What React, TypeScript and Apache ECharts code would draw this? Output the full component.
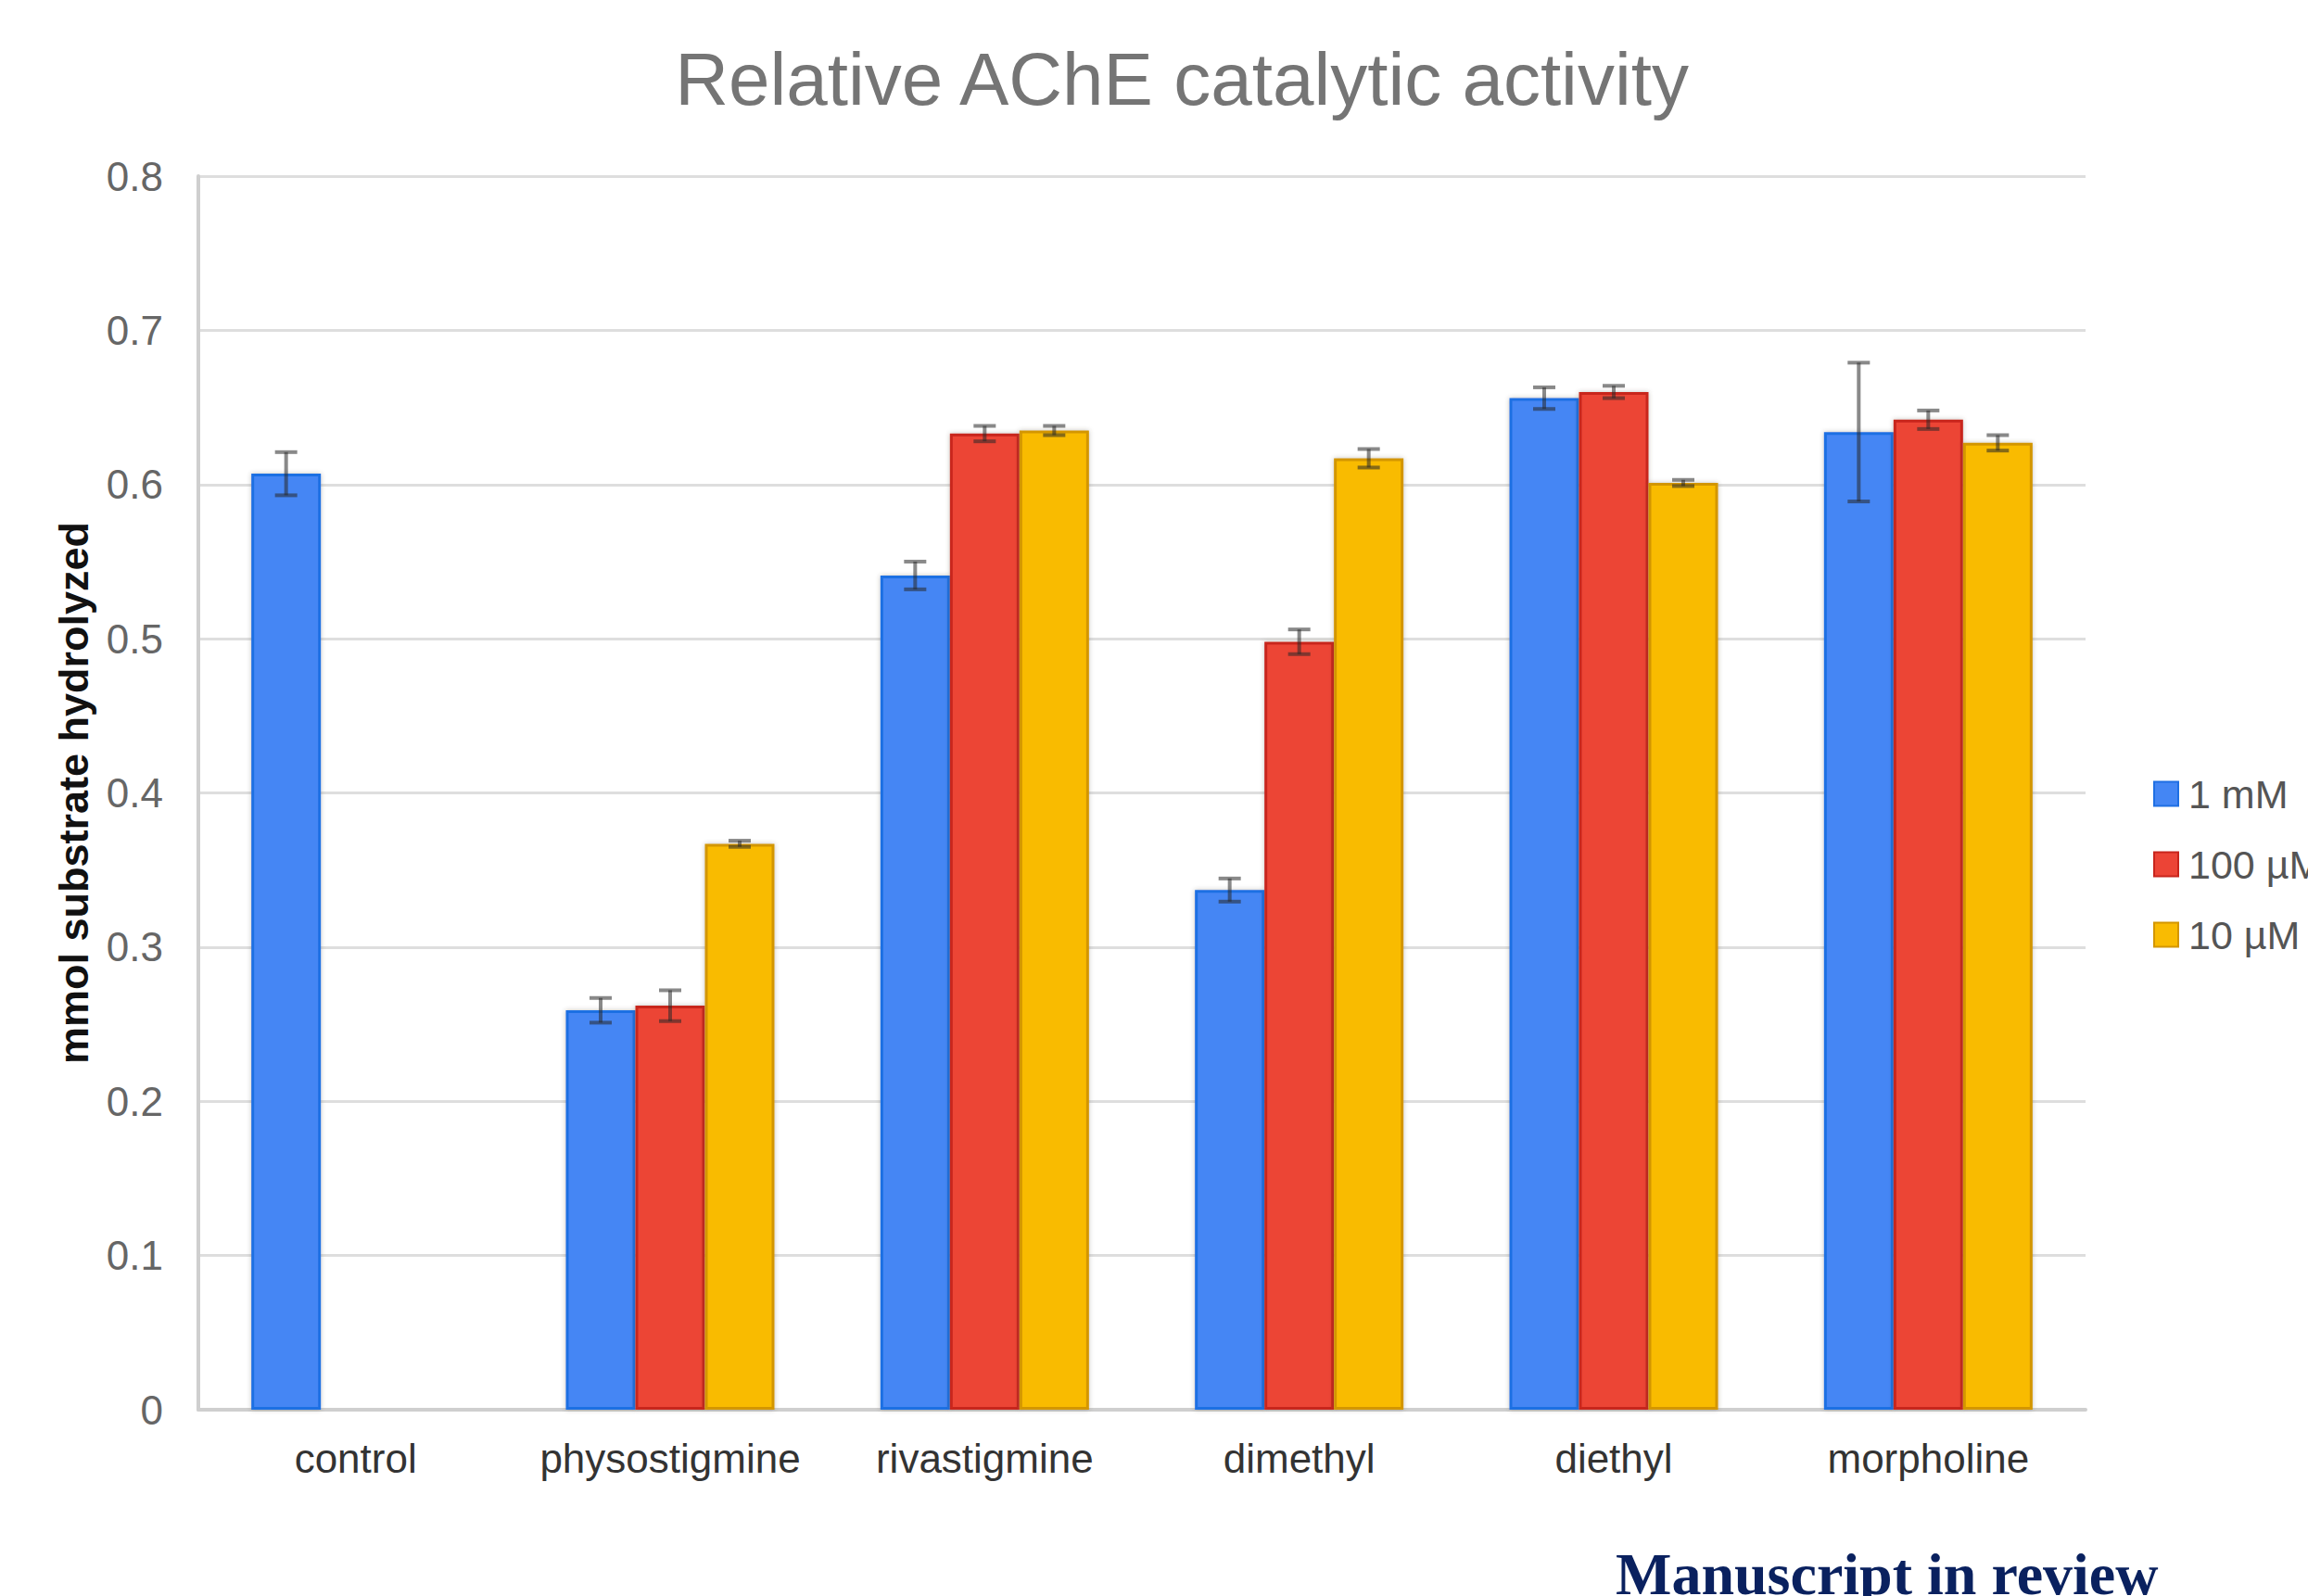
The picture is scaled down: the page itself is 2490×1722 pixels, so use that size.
import React, { useEffect, useRef } from "react";
import * as echarts from "echarts";

const categories = ["control", "physostigmine", "rivastigmine", "dimethyl", "diethyl", "morpholine"];
const seriesNames = ["1 mM", "100 µM", "10 µM"];
const values1mM = [0.607, 0.259, 0.541, 0.337, 0.656, 0.634];
const values100uM = [null, 0.262, 0.633, 0.498, 0.66, 0.642];
const values10uM = [null, 0.367, 0.635, 0.617, 0.601, 0.627];
const err1mM = [0.014, 0.008, 0.009, 0.0075, 0.007, 0.045];
const err100uM = [null, 0.01, 0.005, 0.008, 0.004, 0.006];
const err10uM = [null, 0.002, 0.003, 0.006, 0.002, 0.005];
const yTicks = [0, 0.1, 0.2, 0.3, 0.4, 0.5, 0.6, 0.7, 0.8];

const FONT = "'Liberation Sans', Arial, sans-serif";
const BAR_W = 75;
const fills = ["#4486F4", "#EC4436", "#F9BB02"];
const borders = ["#1f6fe3", "#c8251c", "#d39600"];

export default function App() {
  const ref = useRef<HTMLDivElement>(null);
  useEffect(() => {
    if (!ref.current) return;
    const chart = echarts.init(ref.current, null, { renderer: "svg" });
    const allValues = [values1mM, values100uM, values10uM];
    const allErr = [err1mM, err100uM, err10uM];

    const barSeries = seriesNames.map((name, i) => ({
      name,
      type: "bar",
      data: allValues[i],
      barWidth: BAR_W,
      barGap: "0%",
      itemStyle: {
        color: fills[i],
        borderColor: borders[i],
        borderWidth: 3,
        shadowColor: "rgba(80,70,60,0.35)",
        shadowBlur: 5,
      },
      z: 2,
    }));

    const errSeries = seriesNames.map((name, i) => ({
      name: name + " error",
      type: "custom",
      z: 5,
      silent: true,
      data: allValues[i]
        .map((v, k) => (v == null ? null : [k, v, allErr[i][k]]))
        .filter((d) => d != null),
      renderItem: (params: any, api: any) => {
        const c = api.value(0);
        const v = api.value(1);
        const e = api.value(2);
        const hi = api.coord([c, v + e]);
        const lo = api.coord([c, v - e]);
        const cx = hi[0] + (i - 1) * BAR_W;
        const style = { stroke: "rgba(40,40,40,0.55)", lineWidth: 4 };
        const cap = 12;
        return {
          type: "group",
          children: [
            { type: "line", shape: { x1: cx, y1: hi[1], x2: cx, y2: lo[1] }, style },
            { type: "line", shape: { x1: cx - cap, y1: hi[1], x2: cx + cap, y2: hi[1] }, style },
            { type: "line", shape: { x1: cx - cap, y1: lo[1], x2: cx + cap, y2: lo[1] }, style },
          ],
        };
      },
    }));

    chart.setOption({
      animation: false,
      backgroundColor: "#ffffff",
      textStyle: { fontFamily: FONT },
      title: {
        text: "Relative AChE catalytic activity",
        left: 1270,
        textAlign: "center",
        top: 40,
        textStyle: { fontFamily: FONT, fontSize: 80, fontWeight: "normal", color: "#757575" },
      },
      legend: {
        data: seriesNames,
        orient: "vertical",
        left: 2318,
        top: 830,
        itemWidth: 26,
        itemHeight: 26,
        itemGap: 33,
        icon: "rect",
        textStyle: { fontFamily: FONT, fontSize: 43, color: "#555555", padding: [0, 0, 0, 6] },
      },
      grid: { left: 214, right: 240, top: 190, bottom: 201, containLabel: false },
      xAxis: {
        type: "category",
        data: categories,
        axisLine: { show: true, lineStyle: { color: "#cfcfcf", width: 4 } },
        axisTick: { show: false },
        axisLabel: { interval: 0, fontFamily: FONT, fontSize: 44, color: "#333333", margin: 30 },
      },
      yAxis: {
        type: "value",
        min: 0,
        max: 0.8,
        interval: 0.1,
        name: "mmol substrate hydrolyzed",
        nameLocation: "middle",
        nameGap: 112,
        nameTextStyle: { fontFamily: FONT, fontSize: 45, fontWeight: "bold", color: "#111111" },
        axisLine: { show: true, lineStyle: { color: "#cfcfcf", width: 4 } },
        axisTick: { show: false },
        splitLine: { show: true, lineStyle: { color: "#dedede", width: 3 } },
        axisLabel: {
          fontFamily: FONT,
          fontSize: 44,
          color: "#666666",
          margin: 38,
          formatter: (val: number) => {
            const t = yTicks.find((y) => Math.abs(y - val) < 1e-9);
            return String(t != null ? t : val);
          },
        },
      },
      graphic: [
        {
          type: "text",
          left: 1743,
          top: 1666,
          style: {
            text: "Manuscript in review",
            fontFamily: "'Liberation Serif', 'Times New Roman', serif",
            fontSize: 64,
            fontWeight: "bold",
            fill: "#0a215f",
          },
        },
      ],
      series: [...barSeries, ...errSeries],
    });
    return () => chart.dispose();
  }, []);
  return (
    <div
      ref={ref}
      style={{ position: "fixed", left: 0, top: 0, width: 2490, height: 1722, background: "#fff" }}
    />
  );
}
